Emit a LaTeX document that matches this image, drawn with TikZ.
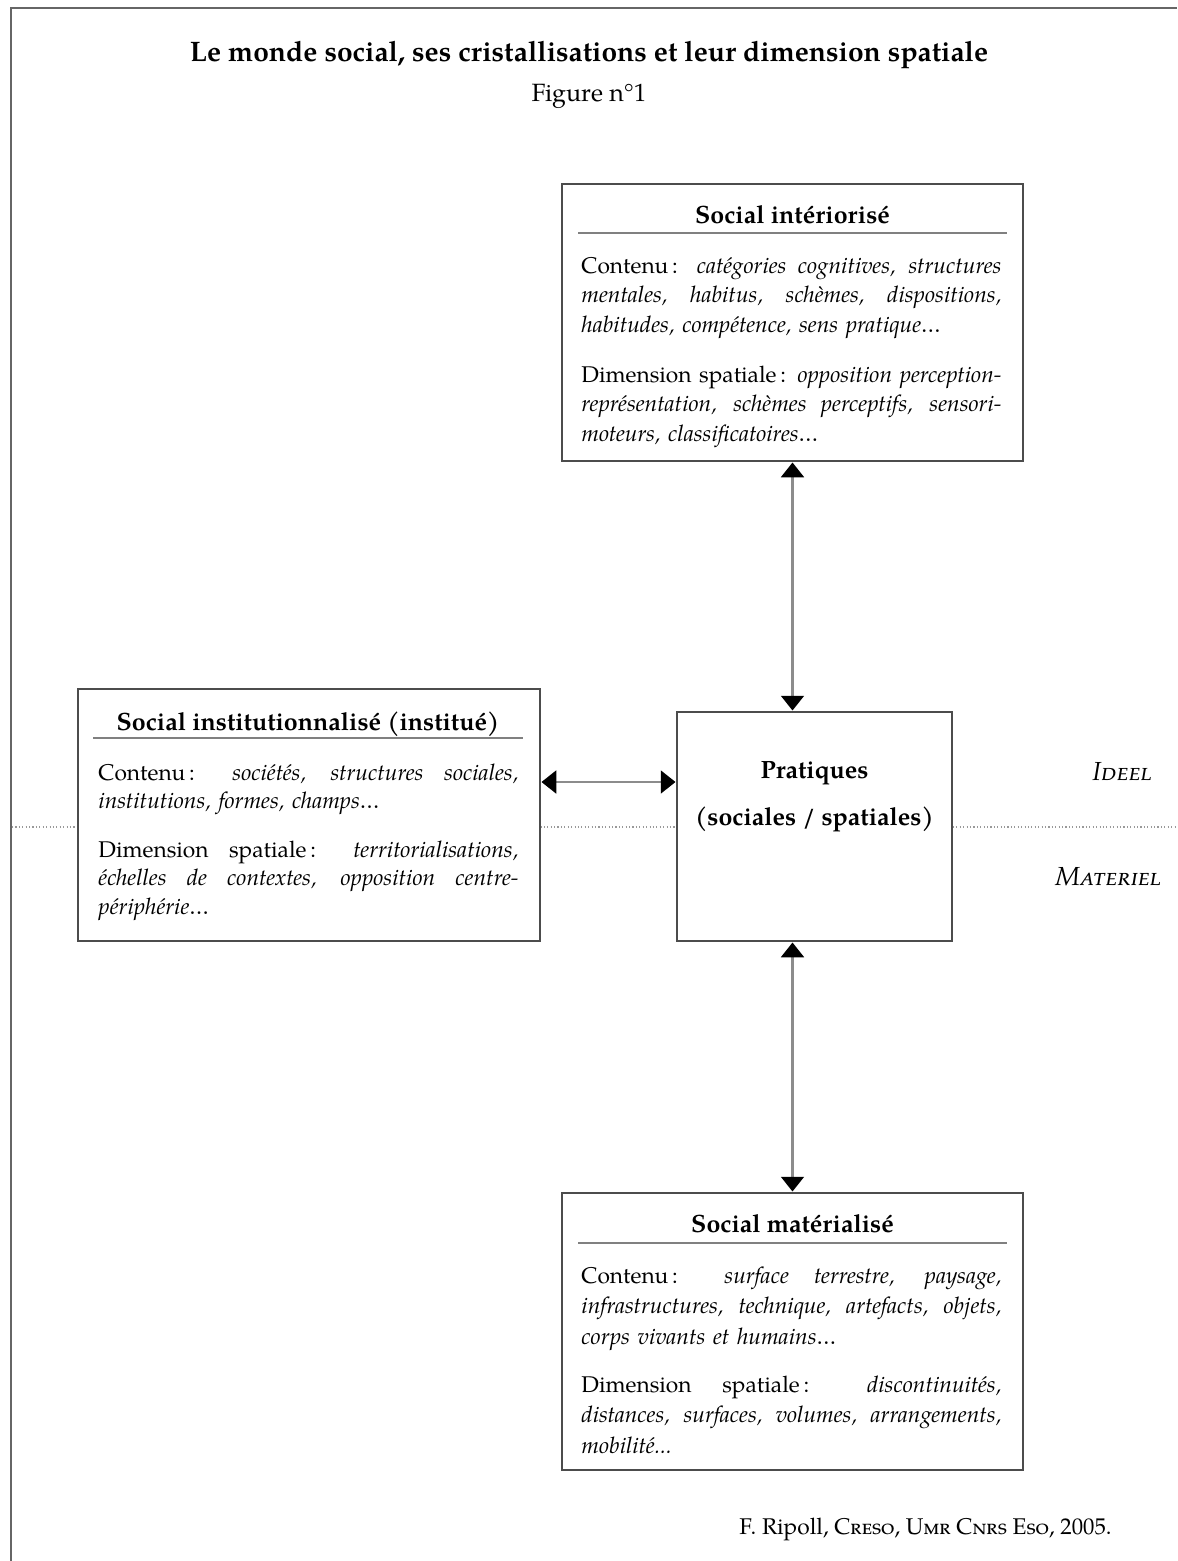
\documentclass[tikz,border=0pt]{standalone}
\usepackage{fontspec}
\setmainfont{TeX Gyre Pagella}
\usetikzlibrary{arrows.meta}
\newcommand\JL[1]{\noindent\hbox to 184.8pt{\spaceskip=0pt\xspaceskip=0pt #1}\par}
\begin{document}
\begin{tikzpicture}[x=0.44pt,y=-0.44pt,
  box/.style={draw=black!70, line width=1.3pt, fill=white, inner sep=0pt},
  hrule/.style={draw=black!50, line width=0.8pt},
  para/.style={anchor=base west, inner sep=0pt, text width=184.8pt, align=left},
  head/.style={anchor=base, inner sep=0pt, font=\fontsize{11}{13}\selectfont\bfseries},
  link/.style={draw=black!45, line width=1.2pt,
    {Triangle[width=10pt,length=6.5pt,color=black]}-{Triangle[width=10pt,length=6.5pt,color=black]}},
  side/.style={anchor=base, inner sep=0pt, font=\fontsize{11.5}{14}\selectfont\itshape}]
\useasboundingbox (0,0) rectangle (1177,1561);
% frame
\draw[black!60, line width=1.2pt] (11,1561) -- (11,8) -- (1177,8);
% title
\node[anchor=base, inner sep=0pt, font=\fontsize{12.4}{15}\selectfont\bfseries] (title) at (589,61) {Le monde social, ses cristallisations et leur dimension spatiale};
\node[anchor=base, inner sep=0pt, font=\fontsize{11}{14}\selectfont] (fig) at (589,101) {Figure n°1};
% divider
\draw[black!40, line width=0.5pt, densely dotted] (12,827) -- (1177,827);
\node[side] (ideel) at (1122,780) {\textsc{Ideel}};
\node[side] (mat) at (1108,885) {\textsc{Materiel}};
% boxes
\node[box, minimum width=202.84pt, minimum height=121.88pt] (top) at (792.5,322.5) {};
\node[box, minimum width=203.28pt, minimum height=110.88pt] (left) at (309,815) {};
\node[box, minimum width=121pt, minimum height=100.76pt] (prat) at (814.5,826.5) {};
\node[box, minimum width=202.84pt, minimum height=121.88pt] (bot) at (792.5,1331.5) {};
% top box content
\node[head] (toph) at (792.5,223) {Social intériorisé};
\draw[hrule] (578,233) -- (1007,233);
\node[para, font=\fontsize{10}{13}\selectfont] (topc) at (581,273) {%
\JL{Contenu\,: \textit{catégories cognitives, structures}}
\JL{\textit{mentales, habitus, schèmes, dispositions,}}
\noindent\textit{habitudes, compétence, sens pratique…}};
\node[para, font=\fontsize{10}{13}\selectfont] (topd) at (581,382) {%
\JL{Dimension spatiale\,: \textit{opposition perception-}}
\JL{\textit{représentation, schèmes perceptifs, sensori-}}
\noindent\textit{moteurs, classificatoires…}};
% left box content
\node[head] (lefth) at (308,730) {Social institutionnalisé (institué)};
\draw[hrule] (93,738) -- (523,738);
\node[para, font=\fontsize{10}{12.6}\selectfont] (leftc) at (98,780) {%
\JL{Contenu\,: \textit{sociétés, structures sociales,}}
\noindent\textit{institutions, formes, champs…}};
\node[para, font=\fontsize{10}{12.6}\selectfont] (leftd) at (98,857) {%
\JL{Dimension spatiale\,: \textit{territorialisations,}}
\JL{\textit{échelles de contextes, opposition centre-}}
\noindent\textit{périphérie…}};
% pratiques
\node[head] (p1) at (814.5,778) {Pratiques};
\node[head] (p2) at (814.5,825) {(sociales / spatiales)};
% bottom box content
\node[head] (both) at (792.5,1232) {Social matérialisé};
\draw[hrule] (578,1243) -- (1007,1243);
\node[para, font=\fontsize{10}{13.6}\selectfont] (botc) at (581,1283) {%
\JL{Contenu\,: \textit{surface terrestre, paysage,}}
\JL{\textit{infrastructures, technique, artefacts, objets,}}
\noindent\textit{corps vivants et humains…}};
\node[para, font=\fontsize{10}{13.6}\selectfont] (botd) at (581,1392) {%
\JL{Dimension spatiale\,: \textit{discontinuités,}}
\JL{\textit{distances, surfaces, volumes, arrangements,}}
\noindent\textit{mobilité...}};
% connectors
\coordinate (hy) at (0,782);
\draw[link] (top.south) -- (top.south |- prat.north);
\draw[link] (left.east |- hy) -- (prat.west |- hy);
\draw[link] (bot.north |- prat.south) -- (bot.north);
% credit
\node[anchor=base east, inner sep=0pt] (credit) at (1112,1534) {F. Ripoll, \textsc{Creso}, \textsc{Umr Cnrs Eso}, 2005.};
\end{tikzpicture}
\end{document}
